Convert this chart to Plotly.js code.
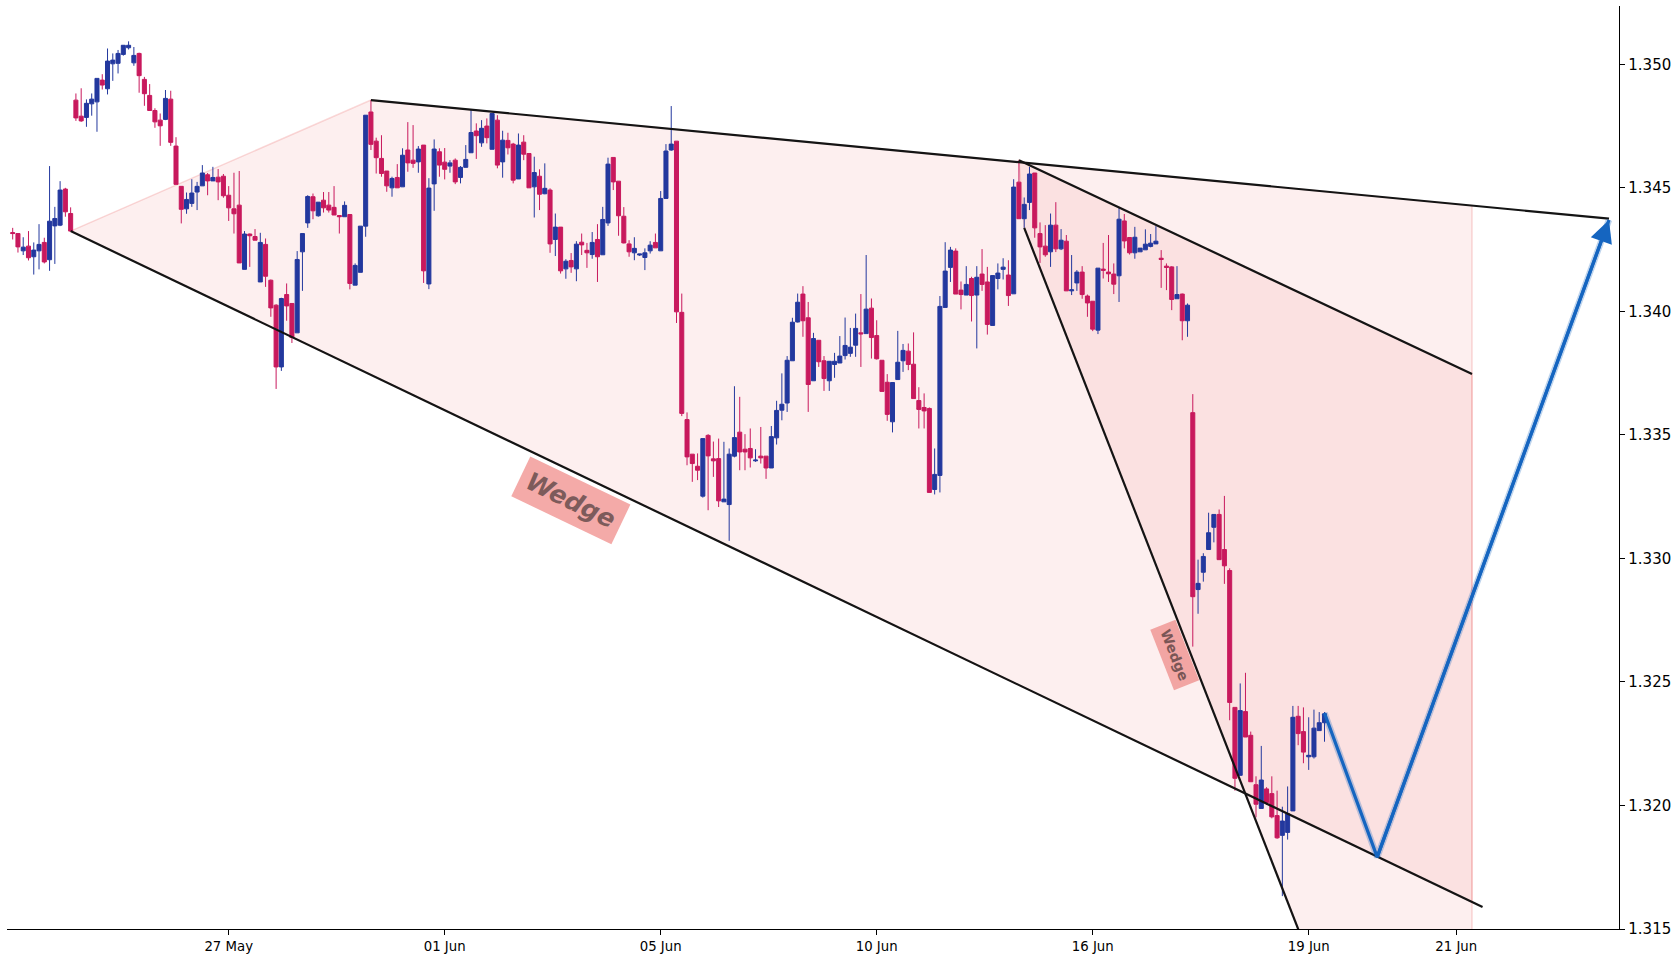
<!DOCTYPE html>
<html>
<head>
<meta charset="utf-8">
<script src="https://cdn.plot.ly/plotly-3.0.1.min.js"></script>
<style>html,body{margin:0;padding:0;background:#fff;}#chart{width:1680px;height:960px;}</style>
</head>
<body>
<div id="chart"></div>
<script>
// ---- candle data (one bar per index) ----
const opens = [
1.34319,1.34315,1.34245,1.34264,1.34221,1.34245,1.34279,1.34209,1.34346,1.34349,
1.34495,1.34396,1.34855,1.34790,1.34785,1.34840,1.34848,1.34936,1.34901,1.35002,
1.35004,1.35040,1.35067,1.35006,1.35044,1.34939,1.34874,1.34813,1.34774,1.34777,
1.34859,1.34669,1.34506,1.34415,1.34437,1.34483,1.34508,1.34553,1.34528,1.34543,
1.34547,1.34470,1.34415,1.34430,1.34170,1.34313,1.34303,1.34119,1.34271,1.34126,
1.34025,1.33775,1.34068,1.34032,1.33913,1.34241,1.34358,1.34464,1.34387,1.34450,
1.34430,1.34421,1.34388,1.34383,1.34392,1.34106,1.34158,1.34345,1.34807,1.34689,
1.34619,1.34568,1.34500,1.34542,1.34504,1.34653,1.34612,1.34605,1.34673,1.34111,
1.34516,1.34646,1.34604,1.34588,1.34612,1.34542,1.34583,1.34642,1.34730,1.34682,
1.34750,1.34656,1.34774,1.34605,1.34692,1.34677,1.34536,1.34685,1.34639,1.34504,
1.34547,1.34476,1.34491,1.34291,1.34341,1.34172,1.34206,1.34172,1.34280,1.34247,
1.34230,1.34291,1.34229,1.34358,1.34623,1.34527,1.34385,1.34273,1.34237,1.34228,
1.34218,1.34245,1.34279,1.34245,1.34457,1.34653,1.34689,1.33996,1.33562,1.33422,
1.33373,1.33252,1.33498,1.33403,1.33404,1.33229,1.33218,1.33414,1.33511,1.33442,
1.33445,1.33395,1.33414,1.33414,1.33366,1.33488,1.33600,1.33629,1.33800,1.33957,
1.34070,1.33974,1.33719,1.33883,1.33800,1.33719,1.33785,1.33791,1.33821,1.33830,
1.33863,1.33913,1.33910,1.34013,1.33902,1.33802,1.33713,1.33553,1.33724,1.33800,
1.33839,1.33786,1.33639,1.33611,1.33607,1.33279,1.33336,1.34016,1.34178,1.34244,
1.34086,1.34066,1.34133,1.34066,1.34151,1.34119,1.33943,1.34133,1.34170,1.34147,
1.34071,1.34523,1.34375,1.34441,1.34560,1.34315,1.34264,1.34241,1.34349,1.34253,
1.34284,1.34083,1.34115,1.34159,1.34062,1.34041,1.33924,1.34171,1.34159,1.34151,
1.34144,1.34366,1.34299,1.34237,1.34241,1.34249,1.34263,1.34273,1.34215,1.34183,
1.34180,1.34051,1.34070,1.33962,1.33590,1.32874,1.32944,1.33036,1.33126,1.33178,
1.33036,1.32951,1.32397,1.32122,1.32380,1.32284,1.32084,1.31988,1.32067,1.32048,
1.31959,1.31879,1.31891,1.31978,1.32361,1.32299,1.32197,1.32197,1.32303,1.32335
];
const highs = [
1.34338,1.34315,1.34300,1.34325,1.34279,1.34353,1.34298,1.34588,1.34423,1.34527,
1.34500,1.34421,1.34882,1.34903,1.34858,1.34882,1.34943,1.34960,1.35064,1.35044,
1.35058,1.35077,1.35093,1.35070,1.35047,1.34949,1.34920,1.34822,1.34801,1.34896,
1.34893,1.34705,1.34506,1.34481,1.34535,1.34524,1.34592,1.34560,1.34585,1.34576,
1.34556,1.34507,1.34561,1.34568,1.34325,1.34315,1.34333,1.34318,1.34295,1.34129,
1.34029,1.34055,1.34113,1.34033,1.34244,1.34315,1.34470,1.34477,1.34442,1.34483,
1.34483,1.34507,1.34388,1.34445,1.34392,1.34194,1.34345,1.34794,1.34855,1.34703,
1.34713,1.34568,1.34545,1.34596,1.34660,1.34766,1.34754,1.34669,1.34673,1.34539,
1.34696,1.34660,1.34661,1.34612,1.34619,1.34588,1.34673,1.34817,1.34761,1.34774,
1.34781,1.34801,1.34794,1.34731,1.34723,1.34682,1.34720,1.34713,1.34639,1.34626,
1.34575,1.34599,1.34498,1.34396,1.34341,1.34211,1.34236,1.34284,1.34315,1.34277,
1.34321,1.34353,1.34423,1.34622,1.34623,1.34527,1.34422,1.34288,1.34300,1.34232,
1.34255,1.34284,1.34315,1.34487,1.34677,1.34831,1.34689,1.34072,1.33591,1.33422,
1.33425,1.33485,1.33503,1.33473,1.33485,1.33472,1.33445,1.33697,1.33654,1.33503,
1.33526,1.33442,1.33532,1.33414,1.33536,1.33638,1.33749,1.33819,1.33974,1.34072,
1.34102,1.34038,1.33913,1.33883,1.33819,1.33798,1.33832,1.33900,1.33975,1.33933,
1.33991,1.34070,1.34228,1.34052,1.33964,1.33802,1.33746,1.33712,1.33921,1.33868,
1.33870,1.33915,1.33693,1.33668,1.33611,1.33445,1.34062,1.34280,1.34261,1.34255,
1.34121,1.34183,1.34140,1.34183,1.34252,1.34180,1.34145,1.34194,1.34215,1.34207,
1.34535,1.34612,1.34461,1.34585,1.34560,1.34360,1.34349,1.34396,1.34442,1.34333,
1.34309,1.34228,1.34167,1.34183,1.34068,1.34041,1.34175,1.34277,1.34309,1.34194,
1.34423,1.34394,1.34299,1.34342,1.34256,1.34332,1.34313,1.34345,1.34248,1.34194,
1.34183,1.34183,1.34072,1.34032,1.33665,1.32995,1.33021,1.33185,1.33178,1.33198,
1.33253,1.32960,1.32397,1.32494,1.32537,1.32299,1.32118,1.32241,1.32074,1.32118,
1.32060,1.31995,1.32077,1.32403,1.32403,1.32397,1.32357,1.32388,1.32378,1.32378
];
const lows = [
1.34291,1.34238,1.34228,1.34206,1.34149,1.34170,1.34194,1.34164,1.34192,1.34345,
1.34383,1.34325,1.34771,1.34767,1.34747,1.34792,1.34727,1.34898,1.34878,1.34933,
1.34963,1.35035,1.35060,1.34994,1.34885,1.34832,1.34811,1.34743,1.34670,1.34774,
1.34670,1.34514,1.34356,1.34395,1.34423,1.34410,1.34508,1.34470,1.34528,1.34450,
1.34460,1.34366,1.34315,1.34196,1.34170,1.34180,1.34288,1.34119,1.34099,1.33978,
1.33686,1.33759,1.33962,1.33872,1.33913,1.34083,1.34338,1.34373,1.34383,1.34400,
1.34400,1.34390,1.34315,1.34383,1.34089,1.34106,1.34158,1.34302,1.34653,1.34558,
1.34545,1.34484,1.34464,1.34500,1.34504,1.34565,1.34581,1.34561,1.34115,1.34090,
1.34407,1.34545,1.34534,1.34561,1.34515,1.34518,1.34583,1.34642,1.34617,1.34666,
1.34680,1.34656,1.34579,1.34541,1.34635,1.34518,1.34536,1.34612,1.34500,1.34380,
1.34410,1.34474,1.34237,1.34224,1.34153,1.34132,1.34156,1.34122,1.34228,1.34176,
1.34213,1.34119,1.34229,1.34346,1.34491,1.34306,1.34275,1.34221,1.34207,1.34224,
1.34167,1.34234,1.34257,1.34245,1.34457,1.34650,1.33953,1.33576,1.33377,1.33310,
1.33317,1.33246,1.33195,1.33330,1.33208,1.33229,1.33071,1.33409,1.33357,1.33357,
1.33368,1.33391,1.33384,1.33322,1.33366,1.33461,1.33559,1.33593,1.33800,1.33955,
1.33897,1.33593,1.33719,1.33775,1.33678,1.33678,1.33731,1.33791,1.33805,1.33816,
1.33816,1.33775,1.33910,1.33809,1.33805,1.33676,1.33557,1.33510,1.33724,1.33755,
1.33762,1.33647,1.33526,1.33526,1.33267,1.33259,1.33267,1.34016,1.34119,1.34070,
1.34008,1.34066,1.33959,1.33850,1.34083,1.33906,1.33943,1.34089,1.34129,1.34022,
1.34071,1.34375,1.34338,1.34410,1.34298,1.34196,1.34221,1.34180,1.34240,1.34248,
1.34083,1.34066,1.34083,1.34051,1.33978,1.33920,1.33908,1.34133,1.34119,1.34070,
1.34038,1.34255,1.34230,1.34213,1.34241,1.34249,1.34259,1.34273,1.34095,1.34086,
1.34005,1.34051,1.33883,1.33897,1.32643,1.32776,1.32906,1.33036,1.33065,1.32995,
1.32897,1.32345,1.32060,1.32122,1.32277,1.32096,1.31952,1.31988,1.32002,1.31948,
1.31865,1.31633,1.31862,1.31978,1.32244,1.32171,1.32144,1.32190,1.32303,1.32258
];
const closes = [
1.34315,1.34261,1.34260,1.34217,1.34248,1.34271,1.34200,1.34365,1.34376,1.34491,
1.34403,1.34325,1.34783,1.34771,1.34842,1.34859,1.34943,1.34916,1.35013,1.35017,
1.35044,1.35077,1.35077,1.35036,1.34954,1.34881,1.34813,1.34767,1.34751,1.34862,
1.34684,1.34514,1.34413,1.34453,1.34479,1.34506,1.34560,1.34528,1.34542,1.34524,
1.34468,1.34419,1.34395,1.34196,1.34313,1.34306,1.34288,1.34279,1.34142,1.34014,
1.33775,1.34052,1.34022,1.33894,1.34210,1.34315,1.34465,1.34407,1.34442,1.34419,
1.34410,1.34390,1.34383,1.34429,1.34113,1.34186,1.34345,1.34794,1.34676,1.34622,
1.34558,1.34508,1.34538,1.34500,1.34632,1.34601,1.34599,1.34657,1.34164,1.34499,
1.34657,1.34592,1.34575,1.34601,1.34524,1.34583,1.34615,1.34724,1.34711,1.34741,
1.34703,1.34801,1.34592,1.34693,1.34662,1.34531,1.34673,1.34636,1.34500,1.34562,
1.34474,1.34498,1.34273,1.34341,1.34164,1.34203,1.34180,1.34272,1.34269,1.34237,
1.34279,1.34221,1.34372,1.34596,1.34524,1.34387,1.34277,1.34241,1.34255,1.34232,
1.34237,1.34268,1.34257,1.34457,1.34649,1.34677,1.33998,1.33587,1.33411,1.33384,
1.33357,1.33485,1.33415,1.33395,1.33233,1.33240,1.33422,1.33489,1.33431,1.33431,
1.33407,1.33398,1.33407,1.33366,1.33493,1.33599,1.33624,1.33802,1.33956,1.34037,
1.33962,1.33704,1.33890,1.33796,1.33728,1.33798,1.33798,1.33819,1.33862,1.33855,
1.33931,1.33909,1.34009,1.33894,1.33808,1.33676,1.33583,1.33712,1.33794,1.33842,
1.33785,1.33647,1.33603,1.33597,1.33267,1.33340,1.34020,1.34163,1.34248,1.34070,
1.34068,1.34109,1.34064,1.34138,1.34109,1.33947,1.34145,1.34155,1.34179,1.34064,
1.34503,1.34375,1.34433,1.34556,1.34338,1.34261,1.34229,1.34349,1.34253,1.34288,
1.34083,1.34087,1.34159,1.34068,1.34034,1.33928,1.34175,1.34166,1.34152,1.34110,
1.34373,1.34285,1.34237,1.34300,1.34256,1.34272,1.34276,1.34284,1.34210,1.34178,
1.34048,1.34068,1.33962,1.34025,1.32845,1.32899,1.33008,1.33104,1.33178,1.32995,
1.32970,1.32417,1.32110,1.32384,1.32277,1.32096,1.32005,1.32103,1.32012,1.31954,
1.31869,1.31937,1.31966,1.32357,1.32291,1.32216,1.32203,1.32313,1.32335,1.32371
];

// ---- axis ticks ----
const tickIndex = [41, 82, 123, 164, 205, 246, 274];
const tickLabels = ['27 May', '01 Jun', '05 Jun', '10 Jun', '16 Jun', '19 Jun', '21 Jun'];
const priceTicks = [1.315, 1.320, 1.325, 1.330, 1.335, 1.340, 1.345, 1.350];

// ---- pattern drawing points (bar index, price) ----
const wedgeAreaX = [11, 68, 277, 277];
const wedgeAreaY = [1.34325, 1.34855, 1.34428, 1.31609];
const innerAreaX = [191, 277, 277, 192];
const innerAreaY = [1.34612, 1.33746, 1.29699, 1.34338];

const upperLineX = [68, 303];
const upperLineY = [1.34855, 1.34375];
const lowerLineX = [11, 279];
const lowerLineY = [1.34325, 1.31589];
const innerUpperX = [191, 277];
const innerUpperY = [1.34612, 1.33746];
const innerSteepX = [192, 246];
const innerSteepY = [1.34338, 1.31391];

const projX = [249, 259, 303];
const projY = [1.32374, 1.31791, 1.34370];

const labelBig = {x: 106, y: 1.33236, angle: 25.6};
const labelSmall = {x: 220.6, y: 1.32610, angle: 68.6};

const BLUE = '#23389e';
const RED = '#c8195d';
const PROJ = '#1565c0';

const idx = opens.map((_, i) => i);

function pathOf(xs, ys) {
  return xs.map((x, i) => (i ? 'L' : 'M') + x + ',' + ys[i]).join(' ') + ' Z';
}

const traces = [
  {
    type: 'candlestick', x: idx, open: opens, high: highs, low: lows, close: closes,
    increasing: {line: {color: BLUE, width: 1}, fillcolor: BLUE},
    decreasing: {line: {color: RED, width: 1}, fillcolor: RED},
    whiskerwidth: 0, hoverinfo: 'skip', showlegend: false
  },
  {type: 'scatter', mode: 'lines', x: upperLineX, y: upperLineY, line: {color: '#141414', width: 2.2}, hoverinfo: 'skip'},
  {type: 'scatter', mode: 'lines', x: lowerLineX, y: lowerLineY, line: {color: '#141414', width: 2.2}, hoverinfo: 'skip'},
  {type: 'scatter', mode: 'lines', x: innerUpperX, y: innerUpperY, line: {color: '#141414', width: 2.2}, hoverinfo: 'skip'},
  {type: 'scatter', mode: 'lines', x: innerSteepX, y: innerSteepY, line: {color: '#141414', width: 2.2}, hoverinfo: 'skip'},
  {type: 'scatter', mode: 'lines', x: projX, y: projY, line: {color: 'rgba(21,101,192,0.28)', width: 6.5}, hoverinfo: 'skip'},
  {type: 'scatter', mode: 'lines', x: projX, y: projY, line: {color: PROJ, width: 3.2}, hoverinfo: 'skip'}
];

const layout = {
  width: 1680, height: 960,
  paper_bgcolor: '#ffffff', plot_bgcolor: '#ffffff',
  margin: {l: 7, r: 61, t: 6, b: 31, pad: 0},
  showlegend: false,
  boxgap: 0.15, boxgroupgap: 0.1,
  font: {family: 'DejaVu Sans', color: '#000'},
  xaxis: {
    type: 'linear', range: [-1.08, 304.9], autorange: false,
    tickmode: 'array', tickvals: tickIndex, ticktext: tickLabels,
    ticks: 'outside', ticklen: 5, tickwidth: 1, tickcolor: '#000',
    tickfont: {family: 'DejaVu Sans', size: 13.3, color: '#000'},
    showline: true, linecolor: '#000', linewidth: 1.3,
    showgrid: false, zeroline: false,
    rangeslider: {visible: false}, fixedrange: true
  },
  yaxis: {
    side: 'right', range: [1.315, 1.35236], autorange: false,
    tickmode: 'array', tickvals: priceTicks, ticktext: priceTicks.map(v => v.toFixed(3)),
    ticks: 'outside', ticklen: 5, tickwidth: 1, tickcolor: '#000',
    tickfont: {family: 'DejaVu Sans', size: 15, color: '#000'},
    showline: true, linecolor: '#000', linewidth: 1.3,
    showgrid: false, zeroline: false, fixedrange: true
  },
  shapes: [
    {type: 'path', xref: 'x', yref: 'y', layer: 'below', path: pathOf(wedgeAreaX, wedgeAreaY),
     fillcolor: 'rgba(240,128,128,0.13)', line: {color: 'rgba(240,128,128,0.3)', width: 1.5}},
    {type: 'path', xref: 'x', yref: 'y', layer: 'below', path: pathOf(innerAreaX, innerAreaY),
     fillcolor: 'rgba(240,128,128,0.13)', line: {color: 'rgba(240,128,128,0.3)', width: 1.5}}
  ],
  annotations: [
    {x: projX[2], y: projY[2], ax: projX[1], ay: projY[1], xref: 'x', yref: 'y', axref: 'x', ayref: 'y',
     text: '', showarrow: true, arrowhead: 2, arrowsize: 1.4, arrowwidth: 3.2, arrowcolor: PROJ, standoff: 0},
    {x: labelBig.x, y: labelBig.y, xref: 'x', yref: 'y', text: 'Wedge', showarrow: false,
     textangle: labelBig.angle, bgcolor: '#f4aaa8', borderpad: 7,
     font: {family: 'DejaVu Sans', size: 25, weight: 'bold', style: 'italic', color: '#7d5b5b'}},
    {x: labelSmall.x, y: labelSmall.y, xref: 'x', yref: 'y', text: 'Wedge', showarrow: false,
     textangle: labelSmall.angle, bgcolor: '#f2a5a3', borderpad: 5,
     font: {family: 'DejaVu Sans', size: 14, weight: 'bold', color: '#7a5656'}}
  ]
};

Plotly.newPlot('chart', traces, layout, {displayModeBar: false, staticPlot: true});
</script>
</body>
</html>
